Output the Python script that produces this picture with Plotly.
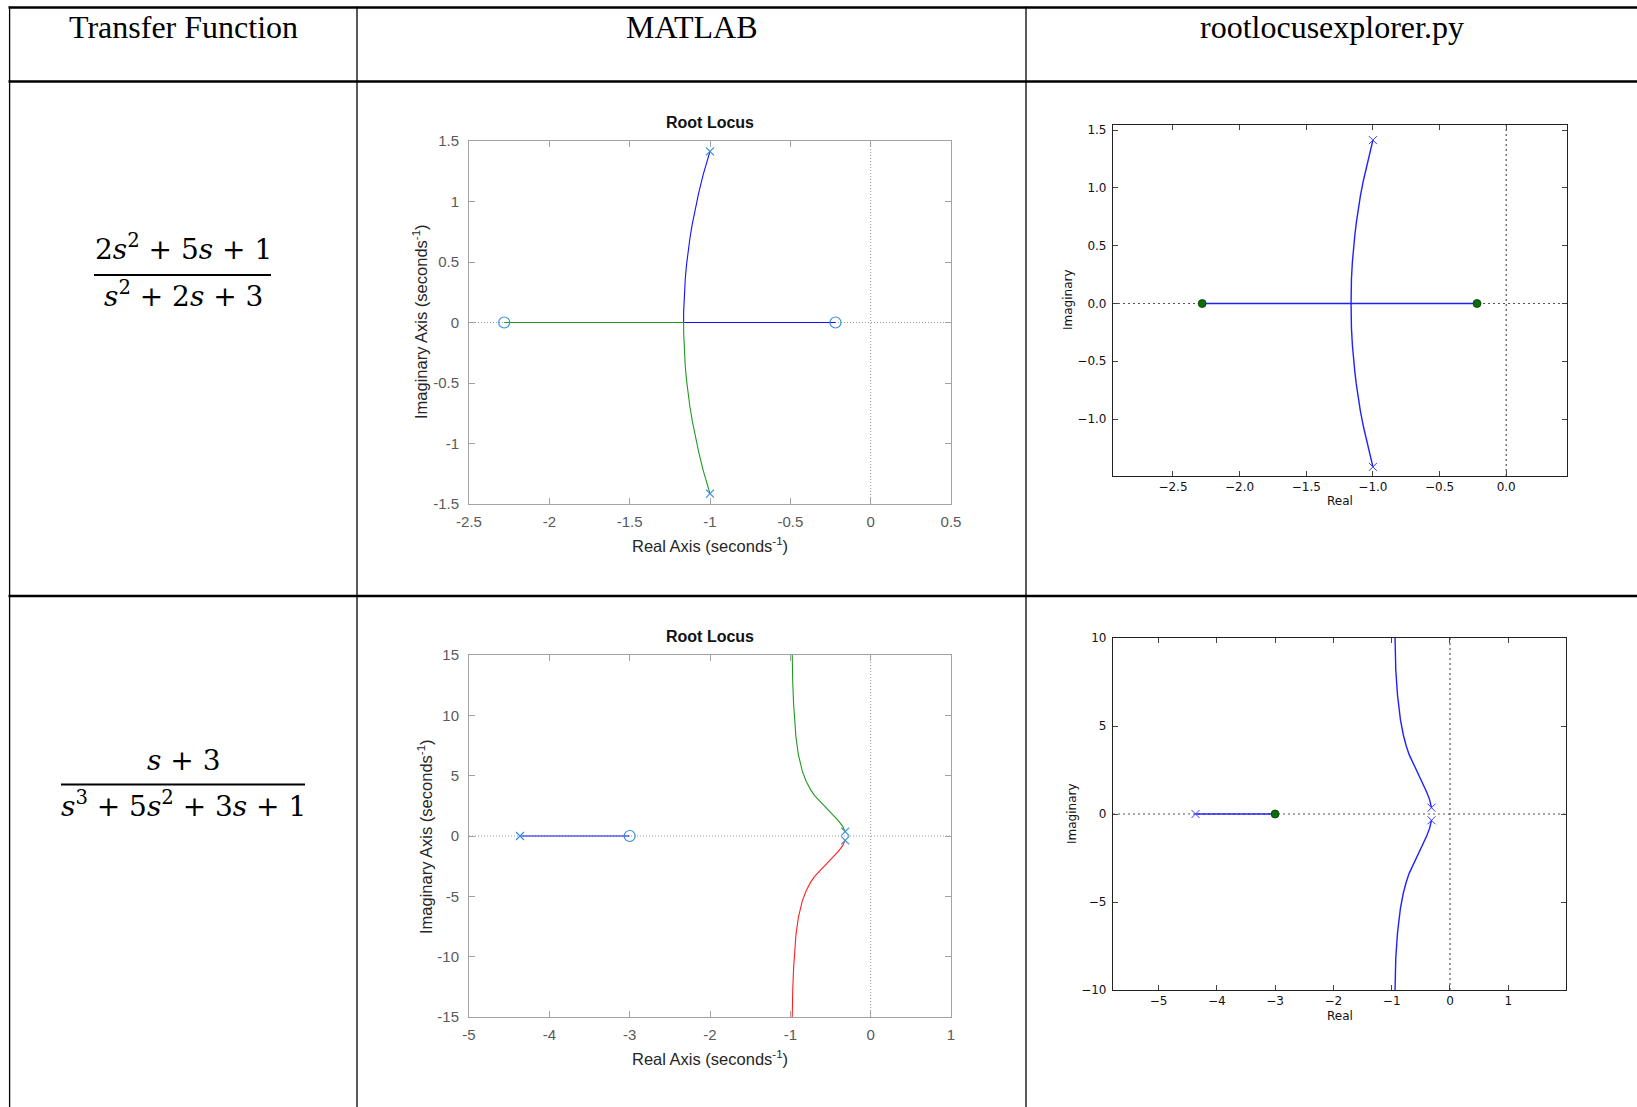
import plotly.graph_objects as go

W, H = 1637, 1107

# ---------------- data ----------------
# Case 1: G(s) = (2s^2 + 5s + 1) / (s^2 + 2s + 3)
tf1_poles_re = [-1.0, -1.0]
tf1_poles_im = [1.414, -1.414]
tf1_zeros_re = [-2.281, -0.219]
tf1_zeros_im = [0.0, 0.0]
tf1_upper_re = [-1.0, -1.042, -1.071, -1.094, -1.111, -1.125, -1.136, -1.146, -1.154, -1.161, -1.163, -1.164, -1.164, -0.219]
tf1_upper_im = [1.414, 1.224, 1.067, 0.931, 0.809, 0.696, 0.587, 0.478, 0.361, 0.214, 0.123, 0.088, 0.0, 0.0]
tf1_lower_re = [-1.0, -1.042, -1.071, -1.094, -1.111, -1.125, -1.136, -1.146, -1.154, -1.161, -1.163, -1.164, -1.164, -2.281]
tf1_lower_im = [-1.414, -1.224, -1.067, -0.931, -0.809, -0.696, -0.587, -0.478, -0.361, -0.214, -0.123, -0.088, 0.0, 0.0]

# Case 2: G(s) = (s + 3) / (s^3 + 5s^2 + 3s + 1)
tf2_poles_re = [-4.365, -0.317, -0.317]
tf2_poles_im = [0.0, 0.358, -0.358]
tf2_zeros_re = [-3.0]
tf2_zeros_im = [0.0]
tf2_real_re = [-4.365, -3.0]
tf2_real_im = [0.0, 0.0]
tf2_upper_re = [-0.317, -0.33, -0.35, -0.40, -0.45, -0.50, -0.55, -0.60, -0.65, -0.70, -0.75, -0.80, -0.85, -0.90, -0.93, -0.95, -0.96, -0.97, -0.98, -0.985]
tf2_upper_im = [0.358, 0.578, 0.818, 1.254, 1.609, 1.936, 2.260, 2.596, 2.960, 3.373, 3.865, 4.490, 5.358, 6.752, 8.194, 9.788, 10.99, 12.75, 15.68, 18.1]
tf2_lower_re = [-0.317, -0.33, -0.35, -0.40, -0.45, -0.50, -0.55, -0.60, -0.65, -0.70, -0.75, -0.80, -0.85, -0.90, -0.93, -0.95, -0.96, -0.97, -0.98, -0.985]
tf2_lower_im = [-0.358, -0.578, -0.818, -1.254, -1.609, -1.936, -2.260, -2.596, -2.960, -3.373, -3.865, -4.490, -5.358, -6.752, -8.194, -9.788, -10.99, -12.75, -15.68, -18.1]

# Tick values / labels
m1_xticks = [-2.5, -2, -1.5, -1, -0.5, 0, 0.5]
m1_xlabels = ["-2.5", "-2", "-1.5", "-1", "-0.5", "0", "0.5"]
m1_yticks = [-1.5, -1, -0.5, 0, 0.5, 1, 1.5]
m1_ylabels = ["-1.5", "-1", "-0.5", "0", "0.5", "1", "1.5"]
m2_xticks = [-5, -4, -3, -2, -1, 0, 1]
m2_xlabels = ["-5", "-4", "-3", "-2", "-1", "0", "1"]
m2_yticks = [-15, -10, -5, 0, 5, 10, 15]
m2_ylabels = ["-15", "-10", "-5", "0", "5", "10", "15"]
r1_xticks = [-2.5, -2.0, -1.5, -1.0, -0.5, 0.0]
r1_xlabels = ["\u22122.5", "\u22122.0", "\u22121.5", "\u22121.0", "\u22120.5", "0.0"]
r1_yticks = [-1.0, -0.5, 0.0, 0.5, 1.0, 1.5]
r1_ylabels = ["\u22121.0", "\u22120.5", "0.0", "0.5", "1.0", "1.5"]
r2_xticks = [-5, -4, -3, -2, -1, 0, 1]
r2_xlabels = ["\u22125", "\u22124", "\u22123", "\u22122", "\u22121", "0", "1"]
r2_yticks = [-10, -5, 0, 5, 10]
r2_ylabels = ["\u221210", "\u22125", "0", "5", "10"]

headers = ["Transfer Function", "MATLAB", "rootlocusexplorer.py"]


# ---------------- helpers (window pixels -> paper) ----------------
def px(x):
    return x / W


def py(y):
    return 1 - y / H


MATLAB_FONT = "Liberation Sans, Arial, sans-serif"
MPL_FONT = "DejaVu Sans, sans-serif"
MATLAB_AXIS = "#a3a3a3"
MATLAB_TICKTXT = "#5a5a5a"
M_BLUE = "#1010ff"
M_GREEN = "#1f9a1f"
M_RED = "#ff2020"
M_MARK = "#3a8ed8"
R_BLUE = "#2020ff"
R_GREEN = "#0a6e0a"


def matlab_axis(dom, rng, tv, tt, anchor, standoff):
    return dict(domain=dom, range=rng, tickvals=tv, ticktext=tt, anchor=anchor,
                automargin=False,
                showgrid=False, zeroline=False, showline=True, linecolor=MATLAB_AXIS,
                linewidth=1, mirror="ticks", ticks="inside", ticklen=6,
                tickcolor=MATLAB_AXIS, tickwidth=1, ticklabelstandoff=standoff,
                tickfont=dict(family=MATLAB_FONT, size=15, color=MATLAB_TICKTXT),
                fixedrange=True)


def mpl_axis(dom, rng, tv, tt, anchor, standoff):
    return dict(domain=dom, range=rng, tickvals=tv, ticktext=tt, anchor=anchor,
                automargin=False,
                showgrid=False, zeroline=False, showline=True, linecolor="#222222",
                linewidth=1.2, mirror="ticks", ticks="inside", ticklen=5,
                tickcolor="#444444", tickwidth=1, ticklabelstandoff=standoff,
                tickfont=dict(family=MPL_FONT, size=12, color="#111111"),
                fixedrange=True)


fig = go.Figure()


def line(x, y, color, xa, ya, width=1.1, dash=None):
    fig.add_trace(go.Scatter(x=x, y=y, mode="lines", xaxis=xa, yaxis=ya,
                             line=dict(color=color, width=width, dash=dash),
                             hoverinfo="skip", showlegend=False))


def marks(x, y, symbol, color, size, xa, ya, fill=None, lw=1.2):
    mk = dict(symbol=symbol, size=size, color=fill if fill else color,
              line=dict(color=color, width=lw))
    fig.add_trace(go.Scatter(x=x, y=y, mode="markers", xaxis=xa, yaxis=ya,
                             marker=mk, hoverinfo="skip", showlegend=False,
                             cliponaxis=False))


# ---- MATLAB case 1 (x, y) ----
line([-2.5, 0.5], [0, 0], "#9a9a9a", "x", "y", width=1, dash="1px,2px")
line([0, 0], [-1.5, 1.5], "#9a9a9a", "x", "y", width=1, dash="1px,2px")
line(tf1_upper_re, tf1_upper_im, M_BLUE, "x", "y")
line(tf1_lower_re, tf1_lower_im, M_GREEN, "x", "y")
marks(tf1_poles_re, tf1_poles_im, "x-thin", M_MARK, 8, "x", "y")
marks(tf1_zeros_re, tf1_zeros_im, "circle-open", M_MARK, 11, "x", "y")

# ---- rootlocusexplorer case 1 (x2, y2) ----
line([-2.95, 0.456], [0, 0], "#555555", "x2", "y2", width=1.2, dash="2px,3px")
line([0, 0], [-1.493, 1.545], "#555555", "x2", "y2", width=1.2, dash="2px,3px")
line(tf1_upper_re, tf1_upper_im, R_BLUE, "x2", "y2", width=1.4)
line(tf1_lower_re, tf1_lower_im, R_BLUE, "x2", "y2", width=1.4)
marks(tf1_poles_re, tf1_poles_im, "x-thin", "#3a3aff", 8, "x2", "y2", lw=1)
marks(tf1_zeros_re, tf1_zeros_im, "circle", "#053d05", 8, "x2", "y2", fill=R_GREEN, lw=0.8)

# ---- MATLAB case 2 (x3, y3) ----
line([-5, 1], [0, 0], "#9a9a9a", "x3", "y3", width=1, dash="1px,2px")
line([0, 0], [-15, 15], "#9a9a9a", "x3", "y3", width=1, dash="1px,2px")
line(tf2_real_re, tf2_real_im, M_BLUE, "x3", "y3")
line(tf2_upper_re, tf2_upper_im, M_GREEN, "x3", "y3")
line(tf2_lower_re, tf2_lower_im, M_RED, "x3", "y3")
marks(tf2_poles_re, tf2_poles_im, "x-thin", M_MARK, 8, "x3", "y3")
marks(tf2_zeros_re, tf2_zeros_im, "circle-open", M_MARK, 11, "x3", "y3")

# ---- rootlocusexplorer case 2 (x4, y4) ----
line([-5.78, 1.99], [0, 0], "#555555", "x4", "y4", width=1.2, dash="2px,3px")
line([0, 0], [-10, 10], "#555555", "x4", "y4", width=1.2, dash="2px,3px")
line(tf2_real_re, tf2_real_im, R_BLUE, "x4", "y4", width=1.4)
line(tf2_upper_re, tf2_upper_im, R_BLUE, "x4", "y4", width=1.4)
line(tf2_lower_re, tf2_lower_im, R_BLUE, "x4", "y4", width=1.4)
marks(tf2_poles_re, tf2_poles_im, "x-thin", "#3a3aff", 8, "x4", "y4", lw=1)
marks(tf2_zeros_re, tf2_zeros_im, "circle", "#053d05", 8, "x4", "y4", fill=R_GREEN, lw=0.8)

# ---------------- axes (window pixel boxes) ----------------
A = dict(x=(469, 951), y=(141, 504))
B = dict(x=(1113, 1567), y=(125, 476))
C = dict(x=(469, 951), y=(655, 1017))
D = dict(x=(1113, 1566), y=(638, 990))


def xd(b):
    return [px(b["x"][0]), px(b["x"][1])]


def yd(b):
    return [py(b["y"][1]), py(b["y"][0])]


fig.update_layout(
    xaxis=matlab_axis(xd(A), [-2.5, 0.5], m1_xticks, m1_xlabels, "y", 4),
    yaxis=matlab_axis(yd(A), [-1.5, 1.5], m1_yticks, m1_ylabels, "x", 6),
    xaxis2=mpl_axis(xd(B), [-2.95, 0.456], r1_xticks, r1_xlabels, "y2", -1),
    yaxis2=mpl_axis(yd(B), [-1.493, 1.545], r1_yticks, r1_ylabels, "x2", 3),
    xaxis3=matlab_axis(xd(C), [-5, 1], m2_xticks, m2_xlabels, "y3", 4),
    yaxis3=matlab_axis(yd(C), [-15, 15], m2_yticks, m2_ylabels, "x3", 6),
    xaxis4=mpl_axis(xd(D), [-5.78, 1.99], r2_xticks, r2_xlabels, "y4", -1),
    yaxis4=mpl_axis(yd(D), [-10, 10], r2_yticks, r2_ylabels, "x4", 3),
)

# ---------------- table lines ----------------
shapes = []


def hline(y, x0, x1, w):
    shapes.append(dict(type="line", xref="paper", yref="paper", x0=px(x0), x1=px(x1),
                       y0=py(y), y1=py(y), line=dict(color="black", width=w)))


def vline(x, y0, y1, w):
    shapes.append(dict(type="line", xref="paper", yref="paper", x0=px(x), x1=px(x),
                       y0=py(y0), y1=py(y1), line=dict(color="black", width=w)))


hline(7.5, 8.5, W, 2.5)
hline(81.5, 8.5, W, 2.5)
hline(596, 8.5, W, 2.5)
vline(9.6, 6.5, H, 1.3)
vline(357, 6.5, H, 1.3)
vline(1026, 6.5, H, 1.3)
# fraction bars
hline(275, 94, 271, 2)
hline(784.5, 61, 305, 2)
fig.update_layout(shapes=shapes)

# ---------------- texts ----------------
ann = []


def text(x, y, s, size, family, color="black", angle=0):
    ann.append(dict(x=px(x), y=py(y), xref="paper", yref="paper", text=s, showarrow=False,
                    xanchor="center", yanchor="middle", textangle=angle,
                    font=dict(family=family, size=size, color=color)))


SERIF = "Liberation Serif, Times New Roman, serif"
text(183, 27, headers[0], 32, SERIF)
text(691.5, 27, headers[1], 32, SERIF)
text(1331.5, 27, headers[2], 32, SERIF)

MATH = "DejaVu Serif, serif"
text(183, 248, "2<i>s</i><sup>2</sup> + 5<i>s</i> + 1", 28, MATH)
text(183, 294, "<i>s</i><sup>2</sup> + 2<i>s</i> + 3", 28, MATH)
text(183, 760, "<i>s</i> + 3", 28, MATH)
text(183, 804, "<i>s</i><sup>3</sup> + 5<i>s</i><sup>2</sup> + 3<i>s</i> + 1", 28, MATH)

# MATLAB labels
text(710, 122, "<b>Root Locus</b>", 16, MATLAB_FONT, "#111111")
text(710, 545, "Real Axis (seconds<sup>-1</sup>)", 16.5, MATLAB_FONT, "#262626")
text(420, 322, "Imaginary Axis (seconds<sup>-1</sup>)", 16.5, MATLAB_FONT, "#262626", -90)
text(710, 636, "<b>Root Locus</b>", 16, MATLAB_FONT, "#111111")
text(710, 1058, "Real Axis (seconds<sup>-1</sup>)", 16.5, MATLAB_FONT, "#262626")
text(425, 836, "Imaginary Axis (seconds<sup>-1</sup>)", 16.5, MATLAB_FONT, "#262626", -90)

# rootlocusexplorer labels
text(1340, 501, "Real", 12, MPL_FONT, "#111111")
text(1068, 300, "Imaginary", 12, MPL_FONT, "#111111", -90)
text(1340, 1016, "Real", 12, MPL_FONT, "#111111")
text(1072, 814, "Imaginary", 12, MPL_FONT, "#111111", -90)

fig.update_layout(
    template="none",
    annotations=ann,
    width=W, height=H,
    margin=dict(l=0, r=0, t=0, b=0, pad=0, autoexpand=False),
    paper_bgcolor="white", plot_bgcolor="white",
    showlegend=False, hovermode=False,
)

fig.write_html("out.html", config={"displayModeBar": False},
               post_script="document.body.style.margin='0';document.body.style.overflow='hidden';")
